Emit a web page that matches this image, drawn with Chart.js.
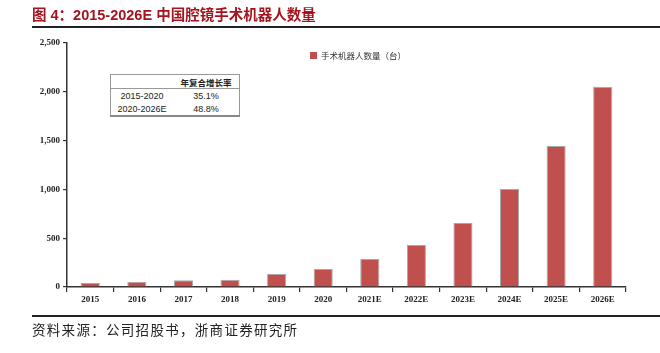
<!DOCTYPE html>
<html><head><meta charset="utf-8">
<script src="https://cdn.jsdelivr.net/npm/chart.js@4.4.1/dist/chart.umd.min.js"></script>
<style>
html,body{margin:0;padding:0;background:#fff;}
#wrap{position:relative;width:660px;height:353px;overflow:hidden;}
#c{position:absolute;left:0;top:0;}
.title{position:absolute;left:32px;top:3px;font-family:"Liberation Sans","Noto Sans CJK SC",sans-serif;font-weight:bold;font-size:14.5px;color:#a5141e;white-space:nowrap;}
.hr{position:absolute;left:32px;width:628px;height:1.5px;background:#222;}
.src{position:absolute;left:32px;top:319px;font-family:"Noto Sans CJK SC",sans-serif;font-size:13.5px;letter-spacing:1.3px;color:#222;white-space:nowrap;}
.legend{position:absolute;left:310px;top:49px;font-family:"Noto Sans CJK SC",sans-serif;font-size:8.5px;color:#333;white-space:nowrap;}
.legend span.sw{display:inline-block;width:7px;height:7px;background:#c0504d;margin-right:4px;vertical-align:0px;}
table.cagr{position:absolute;left:110px;top:74px;border-collapse:collapse;font-family:"Liberation Sans",Arial,sans-serif;font-size:9px;color:#222;border:1px solid #999;border-bottom:2px solid #888;background:#fff;}
table.cagr td{padding:0;height:13px;text-align:center;}
table.cagr tr.h td{border-bottom:1px solid #999;font-family:"Noto Sans CJK SC",sans-serif;font-weight:bold;font-size:8.5px;}
</style></head>
<body><div id="wrap">
<canvas id="c" width="660" height="353"></canvas>
<div class="title">图 4：2015-2026E 中国腔镜手术机器人数量</div>
<div class="hr" style="top:26px"></div>
<div class="hr" style="top:315px"></div>
<div class="src">资料来源：公司招股书，浙商证券研究所</div>
<div class="legend"><span class="sw"></span>手术机器人数量（台）</div>
<table class="cagr">
<tr class="h"><td style="width:62px"></td><td style="width:66px">年复合增长率</td></tr>
<tr><td>2015-2020</td><td>35.1%</td></tr>
<tr><td>2020-2026E</td><td>48.8%</td></tr>
</table>
</div>
<script>
const categories = ["2015","2016","2017","2018","2019","2020","2021E","2022E","2023E","2024E","2025E","2026E"];
const robotCounts = [41, 54, 68, 75, 133, 185, 287, 430, 656, 1004, 1445, 2053];
const seriesName = "手术机器人数量（台）";
const yTicks = [0, 500, 1000, 1500, 2000, 2500];

new Chart(document.getElementById('c'), {
  type: 'bar',
  data: { labels: categories, datasets: [{
    label: seriesName, data: robotCounts,
    backgroundColor: '#c0504d', borderColor: '#a8a8a8', borderWidth: 1,
    barPercentage: 0.41, categoryPercentage: 1.0
  }]},
  options: {
    responsive: false, animation: false,
    layout: { padding: { left: 0, top: 43, right: 34, bottom: 0 } },
    plugins: { legend: { display: false }, tooltip: { enabled: false } },
    scales: {
      x: {
        afterFit: s => { s.height = 66; },
        grid: { offset: true, drawOnChartArea: false, drawTicks: true, tickLength: 5, color: '#333', lineWidth: 1.2 },
        border: { display: true, color: '#333', width: 1.5 },
        ticks: { color: '#222', padding: 2, font: { family: 'Liberation Serif', weight: 'bold', size: 9 } }
      },
      y: {
        min: 0, max: 2500,
        afterFit: s => { s.width = 67; },
        afterBuildTicks: s => { s.ticks = yTicks.map(v => ({ value: v })); },
        grid: { drawOnChartArea: false, drawTicks: true, tickLength: 4, color: '#333', lineWidth: 1.2 },
        border: { display: true, color: '#333', width: 1.5 },
        ticks: { color: '#222', padding: 3, font: { family: 'Liberation Serif', weight: 'bold', size: 9 },
          callback: v => v.toLocaleString('en-US') }
      }
    }
  }
});
</script>
</body></html>
